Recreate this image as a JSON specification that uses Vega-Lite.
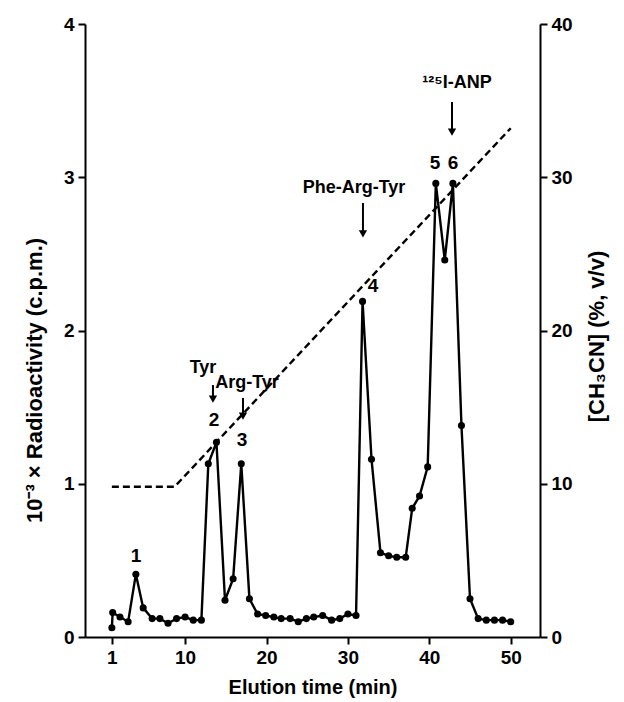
{
  "$schema": "https://vega.github.io/schema/vega-lite/v6.json",
  "width": 455,
  "height": 613,
  "autosize": {"type": "none"},
  "padding": {"left": 85, "top": 24, "right": 84, "bottom": 65},
  "config": {
    "view": {"stroke": null},
    "font": "Liberation Sans",
    "axis": {
      "grid": false,
      "domainColor": "black",
      "domainWidth": 2,
      "tickColor": "black",
      "tickWidth": 2,
      "tickSize": 7,
      "labelColor": "black",
      "titleColor": "black",
      "labelFontSize": 19,
      "labelFontWeight": "bold",
      "titleFontSize": 20,
      "titleFontWeight": "bold",
      "labelFont": "Liberation Sans",
      "titleFont": "Liberation Sans"
    }
  },
  "datasets": {
    "trace": [
      {"t": 1.0, "v": 0.06}, {"t": 1.1, "v": 0.16}, {"t": 2.0, "v": 0.13}, {"t": 3.0, "v": 0.10},
      {"t": 3.95, "v": 0.41}, {"t": 4.85, "v": 0.19}, {"t": 5.95, "v": 0.12}, {"t": 6.9, "v": 0.12},
      {"t": 7.9, "v": 0.09}, {"t": 8.95, "v": 0.12}, {"t": 10.0, "v": 0.13}, {"t": 11.0, "v": 0.11},
      {"t": 12.0, "v": 0.11}, {"t": 12.85, "v": 1.13}, {"t": 13.85, "v": 1.27}, {"t": 14.9, "v": 0.24},
      {"t": 15.9, "v": 0.38}, {"t": 16.9, "v": 1.13}, {"t": 17.9, "v": 0.25}, {"t": 18.9, "v": 0.15},
      {"t": 19.9, "v": 0.14}, {"t": 20.9, "v": 0.13}, {"t": 21.8, "v": 0.12}, {"t": 22.9, "v": 0.12},
      {"t": 23.9, "v": 0.10}, {"t": 24.9, "v": 0.12}, {"t": 25.8, "v": 0.13}, {"t": 26.9, "v": 0.14},
      {"t": 28.0, "v": 0.11}, {"t": 29.0, "v": 0.12}, {"t": 30.0, "v": 0.15}, {"t": 31.0, "v": 0.14},
      {"t": 31.8, "v": 2.19}, {"t": 32.9, "v": 1.16}, {"t": 34.0, "v": 0.55}, {"t": 35.0, "v": 0.53},
      {"t": 36.0, "v": 0.52}, {"t": 37.1, "v": 0.52}, {"t": 37.9, "v": 0.84}, {"t": 38.8, "v": 0.92},
      {"t": 39.8, "v": 1.11}, {"t": 40.8, "v": 2.96}, {"t": 41.9, "v": 2.46}, {"t": 42.9, "v": 2.96},
      {"t": 43.95, "v": 1.38}, {"t": 45.0, "v": 0.25}, {"t": 46.0, "v": 0.12}, {"t": 47.0, "v": 0.11},
      {"t": 48.0, "v": 0.11}, {"t": 49.0, "v": 0.11}, {"t": 50.0, "v": 0.10}
    ],
    "peaks": [
      {"t": 3.97, "v": 0.53, "label": "1"},
      {"t": 13.55, "v": 1.416, "label": "2"},
      {"t": 16.99, "v": 1.285, "label": "3"},
      {"t": 33.08, "v": 2.29, "label": "4"},
      {"t": 40.7, "v": 3.093, "label": "5"},
      {"t": 42.91, "v": 3.093, "label": "6"}
    ],
    "compounds": [
      {"t": 12.2, "v": 1.755, "label": "Tyr"},
      {"t": 17.6, "v": 1.657, "label": "Arg-Tyr"},
      {"t": 30.75, "v": 2.93, "label": "Phe-Arg-Tyr"},
      {"t": 43.4, "v": 3.615, "label": "¹²⁵I-ANP"}
    ],
    "arrows": [
      {"t": 13.42, "v": 1.644, "v2": 1.553},
      {"t": 17.11, "v": 1.56, "v2": 1.442},
      {"t": 31.85, "v": 2.832, "v2": 2.63},
      {"t": 42.79, "v": 3.491, "v2": 3.295}
    ],
    "heads": [
      {"t": 13.42, "v": 1.553},
      {"t": 17.11, "v": 1.442},
      {"t": 31.85, "v": 2.63},
      {"t": 42.79, "v": 3.295}
    ],
    "gradient": [
      {"t": 1.0, "c": 9.8},
      {"t": 8.7, "c": 9.8},
      {"t": 50.0, "c": 33.2}
    ]
  },
  "encoding": {
    "x": {
      "field": "t",
      "type": "quantitative",
      "scale": {"domain": [-2.3, 53.6], "nice": false, "zero": false},
      "axis": {
        "values": [1, 10, 20, 30, 40, 50],
        "title": "Elution time (min)",
        "titlePadding": 10,
        "labelPadding": 4
      }
    }
  },
  "layer": [
    {
      "encoding": {
        "y": {
          "field": "v",
          "type": "quantitative",
          "scale": {"domain": [0, 4], "nice": false},
          "axis": {
            "values": [0, 1, 2, 3, 4],
            "title": "10⁻³ × Radioactivity (c.p.m.)",
            "titleFontSize": 22,
            "titlePadding": 17,
            "titleY": 356,
            "titleAlign": "center",
            "labelPadding": 4
          }
        }
      },
      "layer": [
        {
          "data": {"name": "trace"},
          "mark": {"type": "line", "color": "black", "strokeWidth": 2.4}
        },
        {
          "data": {"name": "trace"},
          "mark": {"type": "point", "filled": true, "color": "black", "size": 50, "opacity": 1}
        },
        {
          "data": {"name": "peaks"},
          "mark": {"type": "text", "fontSize": 19, "fontWeight": "bold", "color": "black", "baseline": "middle", "align": "center"},
          "encoding": {"text": {"field": "label"}}
        },
        {
          "data": {"name": "compounds"},
          "mark": {"type": "text", "fontSize": 18, "fontWeight": "bold", "color": "black", "baseline": "middle", "align": "center"},
          "encoding": {"text": {"field": "label"}}
        },
        {
          "data": {"name": "arrows"},
          "mark": {"type": "rule", "color": "black", "strokeWidth": 2},
          "encoding": {"y2": {"field": "v2"}}
        },
        {
          "data": {"name": "heads"},
          "mark": {"type": "point", "shape": "triangle-down", "filled": true, "color": "black", "size": 70, "opacity": 1}
        }
      ]
    },
    {
      "data": {"name": "gradient"},
      "mark": {"type": "line", "color": "black", "strokeWidth": 2.4, "strokeDash": [7, 4]},
      "encoding": {
        "y": {
          "field": "c",
          "type": "quantitative",
          "scale": {"domain": [0, 40], "nice": false},
          "axis": {
            "orient": "right",
            "values": [0, 10, 20, 30, 40],
            "title": "[CH₃CN] (%, v/v)",
            "titleFontSize": 22,
            "titleAngle": 270,
            "titleAlign": "center",
            "titlePadding": 36,
            "titleY": 312,
            "labelPadding": 4
          }
        }
      }
    }
  ],
  "resolve": {"scale": {"y": "independent"}}
}
